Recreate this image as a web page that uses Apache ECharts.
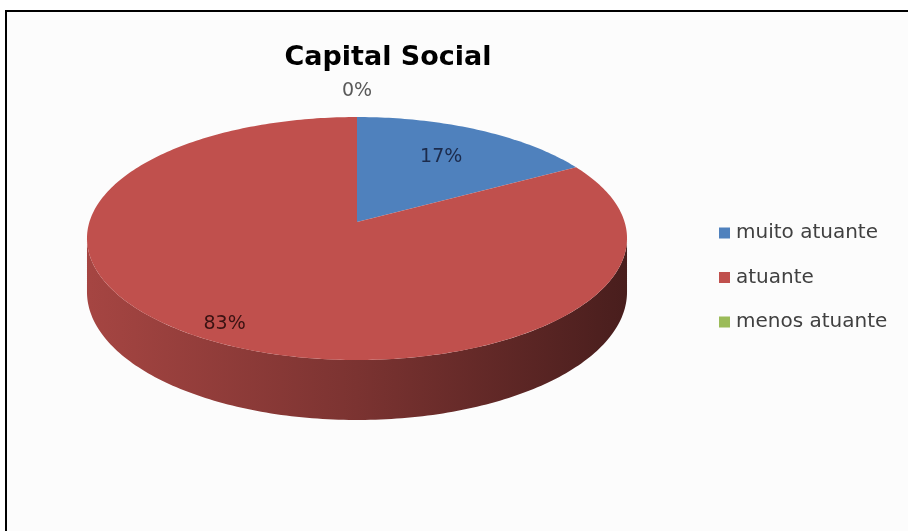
<!DOCTYPE html>
<html>
<head>
<meta charset="utf-8">
<title>Capital Social</title>
<script src="https://cdn.jsdelivr.net/npm/echarts@6/dist/echarts.min.js"></script>
<style>
  html, body { margin: 0; padding: 0; background: #ffffff; }
  #chart { width: 908px; height: 531px; }
</style>
</head>
<body>
<div id="chart"></div>
<script>
// Categories and their shares of the pie
const CATEGORIES = ['muito atuante', 'atuante', 'menos atuante'];
const VALUES = [17, 83, 0];

// Slice colours
const COLORS = ['#4F81BD', '#C0504D', '#9BBB59'];

// Pie layout: apex, radii, perspective and wall thickness
const PIE = { cx: 357, cy: 222, rx: 267.6, ry: 121.5, persp: 0.136, depth: 52.8 };
// Radial position of each slice's label (1 = rim of the top face)
const LABEL_RADIUS = [0.7, 0.87, 1.25];
const LABEL_COLORS = ['#1c2b4c', '#3a1212', '#595959'];

const TOTAL = VALUES.reduce((a, b) => a + b, 0);

// Project an angle (clockwise from 12 o'clock) on the tilted disc
function proj(theta, f, drop) {
  const u = Math.sin(theta), v = -Math.cos(theta);
  const p = 1 + PIE.persp * v;
  return [PIE.cx + f * PIE.rx * u * p, PIE.cy + f * PIE.ry * v * p + drop * p];
}

function shade(hex, k) {
  const n = parseInt(hex.slice(1), 16);
  const r = Math.round(((n >> 16) & 255) * k);
  const g = Math.round(((n >> 8) & 255) * k);
  const b = Math.round((n & 255) * k);
  return 'rgb(' + r + ',' + g + ',' + b + ')';
}

function arc(a, b, f, drop) {
  const pts = [];
  const steps = Math.max(2, Math.ceil((b - a) / (Math.PI / 180)));
  for (let i = 0; i <= steps; i++) pts.push(proj(a + (b - a) * i / steps, f, drop));
  return pts;
}

// Front part of the wall is visible between the disc's widest points
const V0 = (-1 + Math.sqrt(1 + 8 * PIE.persp * PIE.persp)) / (4 * PIE.persp);
const FRONT_A = Math.PI - Math.acos(V0);
const FRONT_B = Math.PI + Math.acos(V0);

function makeRender(index) {
  return function (params, api) {
    const value = api.value(0);
    let before = 0;
    for (let i = 0; i < index; i++) before += VALUES[i];
    const start = before / TOTAL * Math.PI * 2;
    const end = (before + value) / TOTAL * Math.PI * 2;
    const color = COLORS[index];
    const children = [];

    // side wall
    const a = Math.max(start, FRONT_A), b = Math.min(end, FRONT_B);
    if (b > a) {
      const topEdge = arc(a, b, 1, 0);
      const botEdge = arc(a, b, 1, PIE.depth).reverse();
      children.push({
        type: 'polygon',
        shape: { points: topEdge.concat(botEdge) },
        style: {
          fill: {
            type: 'linear', global: true,
            x: PIE.cx - PIE.rx, y: 0, x2: PIE.cx + PIE.rx, y2: 0,
            colorStops: [
              { offset: 0, color: shade(color, 0.86) },
              { offset: 0.5, color: shade(color, 0.64) },
              { offset: 1, color: shade(color, 0.38) }
            ]
          }
        }
      });
    }

    // top face
    if (end > start) {
      children.push({
        type: 'polygon',
        shape: { points: [[PIE.cx, PIE.cy]].concat(arc(start, end, 1, 0)) },
        style: { fill: color }
      });
    }

    // percentage label
    const mid = (start + end) / 2;
    const lp = proj(mid, LABEL_RADIUS[index], 0);
    children.push({
      type: 'text',
      x: lp[0], y: lp[1],
      z2: 10,
      style: {
        text: Math.round(value / TOTAL * 100) + '%',
        align: 'center', verticalAlign: 'middle',
        font: '19px "DejaVu Sans"',
        fill: LABEL_COLORS[index]
      }
    });

    return { type: 'group', children: children };
  };
}

const chart = echarts.init(document.getElementById('chart'), null, { renderer: 'canvas' });

chart.setOption({
  animation: false,
  backgroundColor: '#ffffff',
  graphic: [
    {
      type: 'rect', z: -10,
      shape: { x: 6, y: 11, width: 930, height: 560 },
      style: { fill: '#fcfcfc', stroke: '#000000', lineWidth: 2 }
    },
    {
      type: 'text', x: 388, y: 58,
      style: {
        text: 'Capital Social', align: 'center', verticalAlign: 'middle',
        font: 'bold 27px "DejaVu Sans"', fill: '#000000'
      }
    }
  ],
  legend: {
    orient: 'vertical',
    left: 719,
    top: 221,
    padding: 0,
    icon: 'rect',
    itemWidth: 11,
    itemHeight: 11,
    itemGap: 20.5,
    data: CATEGORIES,
    selectedMode: false,
    textStyle: { fontFamily: 'DejaVu Sans', fontSize: 20, color: '#404040', lineHeight: 24, padding: [0, 0, 0, 1] }
  },
  series: CATEGORIES.map((name, i) => ({
    type: 'custom',
    name: name,
    coordinateSystem: 'none',
    itemStyle: { color: COLORS[i] },
    renderItem: makeRender(i),
    data: [[VALUES[i]]]
  }))
});
</script>
</body>
</html>
